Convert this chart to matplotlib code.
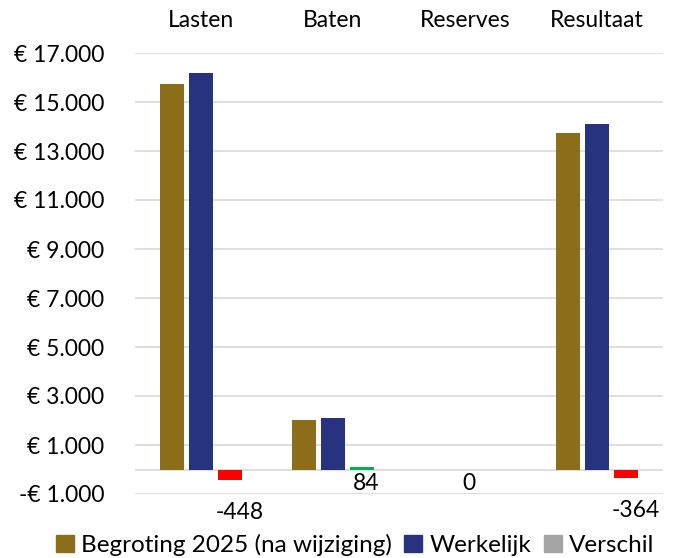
import matplotlib.pyplot as plt
from matplotlib.patches import Patch
from matplotlib.ticker import FuncFormatter

# data
categories = ['Lasten', 'Baten', 'Reserves', 'Resultaat']
begroting = [15730, 2030, 0, 13720]
werkelijk = [16178, 2114, 0, 14084]
verschil = [-448, 84, 0, -364]
yticks = list(range(-1000, 17001, 2000))

plt.rcParams['font.family'] = ['Lato', 'DejaVu Sans']

c_beg = '#8C6D19'
c_wer = '#283380'
c_leg = '#A5A5A5'
fs = 16.5

fig = plt.figure(figsize=(6.76, 5.58), dpi=100)
ax = fig.add_axes([135 / 676, 1 - 494 / 558, 528 / 676, 441 / 558])

x = list(range(len(categories)))
w = 0.18
off = 0.22
ax.bar([i - off for i in x], begroting, w, color=c_beg, zorder=3)
ax.bar(x, werkelijk, w, color=c_wer, zorder=3)
vcol = ['#FF0000' if v < 0 else '#00B050' for v in verschil]
ax.bar([i + off for i in x], verschil, w, color=vcol, zorder=3)

for i, v in enumerate(verschil):
    if v < 0:
        ax.annotate(str(v), (i + off, v), xytext=(7, -23), textcoords='offset points',
                    ha='center', va='center', fontsize=fs)
    else:
        ax.annotate(str(v), (i + off if v else i, 0), xytext=(3, -10), textcoords='offset points',
                    ha='center', va='center', fontsize=fs)

ax.set_xlim(-0.5, 3.5)
ax.set_ylim(-1000, 17000)
ax.set_yticks(yticks)
ax.yaxis.set_major_formatter(FuncFormatter(
    lambda v, p: ('-' if v < 0 else '') + '€ ' + f'{abs(int(v)):,}'.replace(',', '.')))
ax.grid(axis='y', color='#D9D9D9', linewidth=1.2, zorder=0)
ax.axhline(0, color='#D9D9D9', linewidth=1.2, zorder=1)

ax.xaxis.tick_top()
ax.set_xticks(x)
ax.set_xticklabels(categories)
ax.tick_params(length=0, labelsize=fs)
ax.tick_params(axis='x', pad=16)
ax.tick_params(axis='y', pad=22)
for s in ax.spines.values():
    s.set_visible(False)

handles = [Patch(color=c_beg, label='Begroting 2025 (na wijziging)'),
           Patch(color=c_wer, label='Werkelijk'),
           Patch(color=c_leg, label='Verschil')]
fig.legend(handles=handles, loc='center', bbox_to_anchor=(355 / 676, 1 - 545 / 558),
           ncol=3, frameon=False, fontsize=17.5, handlelength=0.75, handleheight=0.75,
           handletextpad=0.3, columnspacing=0.5)

fig.savefig('out.png', dpi=100)
